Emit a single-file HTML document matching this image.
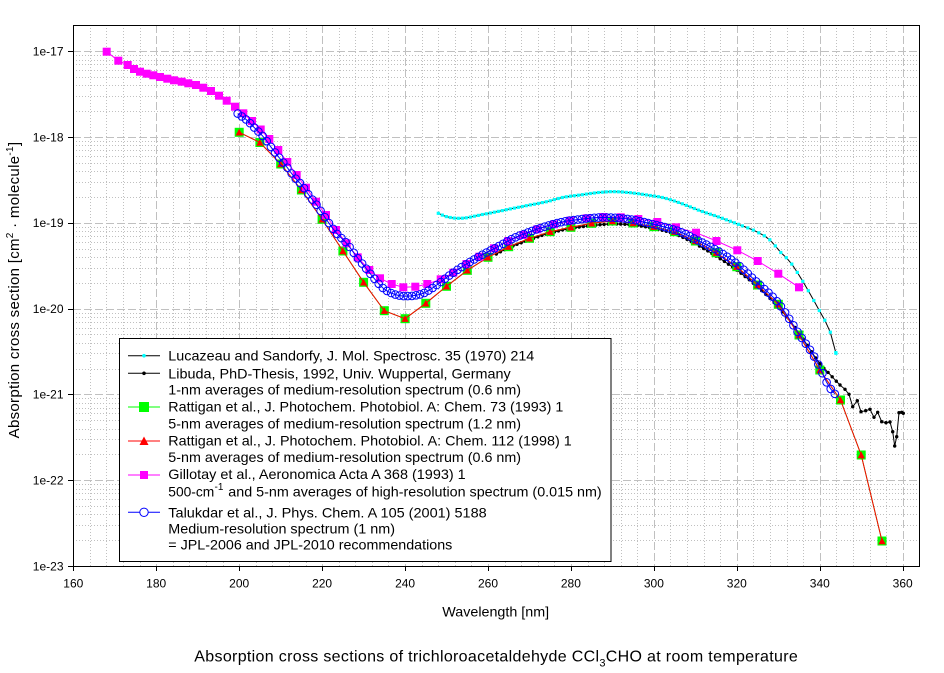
<!DOCTYPE html>
<html><head><meta charset="utf-8">
<style>
html,body{margin:0;padding:0;background:#fff;}
svg{display:block;font-family:"Liberation Sans",Arial,sans-serif;}
</style></head><body>
<svg id="s" width="944" height="673" viewBox="0 0 944 673" xmlns="http://www.w3.org/2000/svg">
<defs><clipPath id="cp"><rect x="73" y="25" width="847" height="542"/></clipPath></defs>
<rect width="944" height="673" fill="#fff"/>
<g id="grid"></g>
<g id="data" clip-path="url(#cp)"></g>

<!-- frame -->
<g stroke="#000" stroke-width="1" fill="none">
<path d="M73.5 25V566.5H919.5V25.5H73.5"/>
<path id="ticks" d=""/>
</g>

<!-- tick labels -->
<g font-size="12" fill="#000" text-anchor="end">
<text x="63.5" y="55.5">1e-17</text>
<text x="63.5" y="141.3">1e-18</text>
<text x="63.5" y="227.1">1e-19</text>
<text x="63.5" y="312.9">1e-20</text>
<text x="63.5" y="398.7">1e-21</text>
<text x="63.5" y="484.5">1e-22</text>
<text x="63.5" y="570.3">1e-23</text>
</g>
<g font-size="12" fill="#000" text-anchor="middle">
<text x="73.3" y="587.5">160</text>
<text x="156.2" y="587.5">180</text>
<text x="239.2" y="587.5">200</text>
<text x="322.1" y="587.5">220</text>
<text x="405.1" y="587.5">240</text>
<text x="488.0" y="587.5">260</text>
<text x="570.9" y="587.5">280</text>
<text x="653.9" y="587.5">300</text>
<text x="736.8" y="587.5">320</text>
<text x="819.8" y="587.5">340</text>
<text x="902.7" y="587.5">360</text>
</g>

<!-- axis titles -->
<text x="442.3" y="616.5" font-size="14" textLength="106.8" lengthAdjust="spacingAndGlyphs">Wavelength [nm]</text>
<text transform="translate(19,290) rotate(-90)" text-anchor="middle" font-size="15" letter-spacing="0.3">Absorption cross section [cm<tspan font-size="10" dy="-6">2</tspan><tspan dy="6"> · molecule</tspan><tspan font-size="10" dy="-6">-1</tspan><tspan dy="6">]</tspan></text>

<!-- chart title -->
<text x="194.3" y="661.5" font-size="16" letter-spacing="0.32">Absorption cross sections of trichloroacetaldehyde CCl<tspan font-size="11" dy="5">3</tspan><tspan dy="-5">CHO at room temperature</tspan></text>

<!-- legend -->
<rect x="119.5" y="338.5" width="491.5" height="223" fill="#fff" stroke="#000" stroke-width="1"/>
<g stroke-width="1">
<line x1="128" y1="355.7" x2="160" y2="355.7" stroke="#000"/>
<circle cx="144" cy="355.7" r="1.8" fill="#00ffff"/>
<line x1="128" y1="373.3" x2="160" y2="373.3" stroke="#000"/>
<circle cx="144" cy="373.3" r="1.8" fill="#000"/>
<line x1="128" y1="407" x2="160" y2="407" stroke="#00ff00"/>
<rect x="139" y="402" width="10" height="10" fill="#00ff00"/>
<line x1="128" y1="441" x2="160" y2="441" stroke="#ff0000"/>
<polygon points="139.5,445 144,436.5 148.5,445" fill="#ff0000"/>
<line x1="128" y1="475" x2="160" y2="475" stroke="#ff00ff"/>
<rect x="140" y="471" width="8" height="8" fill="#ff00ff"/>
<line x1="128" y1="512.3" x2="160" y2="512.3" stroke="#0000ff"/>
<circle cx="144" cy="512.3" r="4.2" fill="#fff" stroke="#0000ff"/>
</g>
<g font-size="14" fill="#000">
<text x="168.3" y="360.7" textLength="366" lengthAdjust="spacingAndGlyphs">Lucazeau and Sandorfy, J. Mol. Spectrosc. 35 (1970) 214</text>
<text x="168.3" y="378.3" textLength="342.4" lengthAdjust="spacingAndGlyphs">Libuda, PhD-Thesis, 1992, Univ. Wuppertal, Germany</text>
<text x="168.3" y="394.3" textLength="352.7" lengthAdjust="spacingAndGlyphs">1-nm averages of medium-resolution spectrum (0.6 nm)</text>
<text x="168.3" y="411.7" textLength="395" lengthAdjust="spacingAndGlyphs">Rattigan et al., J. Photochem. Photobiol. A: Chem. 73 (1993) 1</text>
<text x="168.3" y="428.3" textLength="352.7" lengthAdjust="spacingAndGlyphs">5-nm averages of medium-resolution spectrum (1.2 nm)</text>
<text x="168.3" y="445.3" textLength="403.4" lengthAdjust="spacingAndGlyphs">Rattigan et al., J. Photochem. Photobiol. A: Chem. 112 (1998) 1</text>
<text x="168.3" y="462" textLength="352.7" lengthAdjust="spacingAndGlyphs">5-nm averages of medium-resolution spectrum (0.6 nm)</text>
<text x="168.3" y="479" textLength="297.4" lengthAdjust="spacingAndGlyphs">Gillotay et al., Aeronomica Acta A 368 (1993) 1</text>
<text x="168.3" y="496.7" textLength="46" lengthAdjust="spacingAndGlyphs">500-cm</text>
<text x="214.5" y="490" font-size="10">-1</text>
<text x="228.3" y="496.7" textLength="373.4" lengthAdjust="spacingAndGlyphs">and 5-nm averages of high-resolution spectrum (0.015 nm)</text>
<text x="168.3" y="517.3" textLength="318.4" lengthAdjust="spacingAndGlyphs">Talukdar et al., J. Phys. Chem. A 105 (2001) 5188</text>
<text x="168.3" y="533.3" textLength="226.7" lengthAdjust="spacingAndGlyphs">Medium-resolution spectrum (1 nm)</text>
<text x="168.3" y="549.3" textLength="284" lengthAdjust="spacingAndGlyphs">= JPL-2006 and JPL-2010 recommendations</text>
</g>
</svg>
<script>
(function(){
const NS="http://www.w3.org/2000/svg";
function X(nm){return 73.3+(nm-160)*4.147;}
function mk(tag,a,p){const e=document.createElementNS(NS,tag);for(const k in a)e.setAttribute(k,a[k]);p.appendChild(e);return e;}
const grid=document.getElementById('grid');
const data=document.getElementById('data');
// grid
let dMin='',dMajV='',dMajH='';
for(let nm=164;nm<=362;nm+=4){const x=Math.round(X(nm))+0.5;if(nm%20===0)dMajV+='M'+x+' 25V566';else dMin+='M'+x+' 25V566';}
for(let d=0;d<7;d++){const yb=566-d*85.8;if(d>0)dMajH+='M73 '+(Math.round(yb)+0.5)+'H919';
 for(let k=2;k<=9;k++){const y=yb-Math.log10(k)*85.8;if(y>27)dMin+='M73 '+(Math.round(y)+0.5)+'H919';}}
mk('path',{d:dMin,stroke:'#c0c0c0','stroke-width':1,'stroke-dasharray':'1,2',fill:'none'},grid);
mk('path',{d:dMajV,stroke:'#c0c0c0','stroke-width':1,'stroke-dasharray':'8,3',fill:'none'},grid);
mk('path',{d:dMajH,stroke:'#c0c0c0','stroke-width':1,'stroke-dasharray':'8,3',fill:'none'},grid);
// ticks
let t='';
for(let nm=160;nm<=360;nm+=20){const x=Math.round(X(nm))+0.5;t+='M'+x+' 566V571';}
for(let d=0;d<7;d++){const y=Math.round(566-d*85.8)+0.5;t+='M68 '+y+'H73';}
document.getElementById('ticks').setAttribute('d',t);

function interp(P,x){
 if(x<=P[0][0])return P[0][1];
 if(x>=P[P.length-1][0])return P[P.length-1][1];
 let i=0;while(i<P.length-2&&x>P[i+1][0])i++;
 const p0=P[Math.max(i-1,0)],p1=P[i],p2=P[i+1],p3=P[Math.min(i+2,P.length-1)];
 const h=p2[0]-p1[0],t=(x-p1[0])/h;
 const m1=(p2[1]-p0[1])/(p2[0]-p0[0]),m2=(p3[1]-p1[1])/(p3[0]-p1[0]);
 const t2=t*t,t3=t2*t;
 return (2*t3-3*t2+1)*p1[1]+(t3-2*t2+t)*h*m1+(-2*t3+3*t2)*p2[1]+(t3-t2)*h*m2;
}
function pl(pts,color){mk('polyline',{points:pts.map(q=>q[0].toFixed(1)+','+q[1].toFixed(1)).join(' '),fill:'none',stroke:color,'stroke-width':1},data);}

// Lucazeau (cyan)
const cyA=[[438.3,213.3],[446.7,216.7],[456.7,218.3],[466.7,217.7],[480,215],[496.7,211.7],[513.3,208.3],[530,205],[546.7,201.7],[563.3,197.3],[580,195],[596.7,192.7],[613.3,191.7],[630,192.7],[646.7,195],[663.3,197.7],[680,203],[700,210.7],[720,217.5],[740,225],[756.7,231.7],[770,240],[780,251.7],[790,261.7],[800,276.7],[811.7,296.7],[821.7,315],[829.3,329.3],[836,353.3]];
const cy=[];for(let x=438.3;x<836;x+=(x<740?4:5.5))cy.push([x,interp(cyA,x)]);cy.push([836,353.3]);
pl(cy,'#000');
cy.forEach(q=>mk('rect',{x:(q[0]-1.6).toFixed(1),y:(q[1]-1.6).toFixed(1),width:3.2,height:3.2,fill:'#00ffff'},data));

// Libuda (black)
const lbA=[[446.7,288],[466.7,272],[487.3,259],[508.3,248],[530,239.5],[550,233],[570,228.5],[591.7,225.5],[612.7,224],[633.3,225],[654,228.5],[675,234],[695.7,244],[716,256],[736.7,270],[757.7,287],[778.3,307],[799,333],[811.7,352],[820,364],[828.3,372.7],[840,385]];
const lb=[];for(let nm=262;nm<=344;nm++){const x=X(nm);lb.push([x,interp(lbA,x)]);}
[[840,385],[845,389.3],[849,394.3],[852.7,406.7],[857.3,400.7],[861,411.7],[865.7,410.7],[870,409.3],[874,417.3],[877.7,412.3],[881.7,421.7],[886,422.7],[890,422],[892.7,431.7],[894.7,446],[896.7,436.7],[899,412.7],[901.7,412.3],[903.3,413.3]].forEach(q=>lb.push(q));
pl(lb,'#000');
lb.forEach(q=>mk('circle',{cx:q[0].toFixed(1),cy:q[1].toFixed(1),r:1.7,fill:'#000'},data));

// Rattigan
const ry=[132.3,142.5,164,190,219.3,251,282.3,310.7,318.7,303.3,286.3,270.3,257.3,246.7,238.3,231.7,227.3,223.3,221,223,226.7,231.7,241,252.7,266.7,285,304.3,335,370,400,455,541];
const rt=ry.map((y,i)=>[X(200+5*i),y]);
pl(rt,'#00ff00');
rt.forEach(q=>mk('rect',{x:(q[0]-4.5).toFixed(1),y:(q[1]-4.5).toFixed(1),width:9,height:9,fill:'#00ff00'},data));
pl(rt,'#ff0000');
rt.forEach(q=>mk('polygon',{points:(q[0]-3.6).toFixed(1)+','+(q[1]+3.2).toFixed(1)+' '+q[0].toFixed(1)+','+(q[1]-3.6).toFixed(1)+' '+(q[0]+3.6).toFixed(1)+','+(q[1]+3.2).toFixed(1),fill:'#ff0000'},data));

// Gillotay (magenta)
const gil=[[106.7,51.7],[118.3,60.7],[127.7,65],[134,69],[140,71.7],[146.7,73.7],[153.3,75.3],[160,77],[167.3,78.7],[174,80.3],[181.7,81.7],[188.3,83.3],[196,85],[203.3,87.7],[211,91],[219,95.7],[226.7,100.7],[235,106.7],[243.3,113.3],[252,121],[260.7,129.5],[269.3,139],[278.3,150],[287.3,162],[296.7,175],[306,187.7],[316,201.7],[326,215],[336,230],[346.7,243.3],[357.7,257.3],[369.3,270],[380,278.3],[391.7,284],[403.3,287.3],[415.3,286.7],[427.3,284],[440.7,279.3],[453.3,272.7],[466.5,264],[479.3,256.7],[494,248.3],[508.3,241],[523.3,235],[537.3,229.3],[554,224.3],[570,220.7],[586.7,218.3],[603.3,217],[620.7,217.3],[638.3,219],[657.3,222],[676,227.3],[696,232.7],[716.5,241],[737.3,250.3],[757.7,261],[778.3,273.7],[799,287.3]];
pl(gil,'#ff00ff');
gil.forEach(q=>mk('rect',{x:(q[0]-4).toFixed(1),y:(q[1]-4).toFixed(1),width:8,height:8,fill:'#ff00ff'},data));

// Talukdar (blue)
const blA=[[237.3,113.3],[246.7,120],[255,128.3],[263.3,136.7],[270.7,146.7],[278.3,156.7],[286.7,166.7],[294,176.7],[301.7,185],[310,196.7],[316.7,205],[326.7,220],[336.7,233.3],[346.7,243.3],[356.7,256.7],[370,273.3],[383.3,288.3],[396.7,295],[410,296],[423.3,293.3],[436.7,285],[450,275],[463.3,266],[480,256],[496.7,247.3],[513.3,238.3],[530,231.7],[546.7,226],[563.3,221.7],[580,219.3],[596.7,217.7],[613.3,217.7],[630,219.3],[646.7,222.7],[663.3,226.7],[680,231.7],[698,240.5],[718,251],[737,264],[757.7,283],[778.3,303],[799,334],[812,353],[820,368],[828,385],[835,394]];
const bl=[];for(let nm=200;nm<=344;nm++){const x=Math.max(X(nm)-1.5,237.3);bl.push([x,interp(blA,x)]);}
pl(bl,'#0000ff');
bl.forEach(q=>mk('circle',{cx:q[0].toFixed(1),cy:q[1].toFixed(1),r:3.8,fill:'none',stroke:'#0000ff','stroke-width':1},data));
})();
</script>
</body></html>
